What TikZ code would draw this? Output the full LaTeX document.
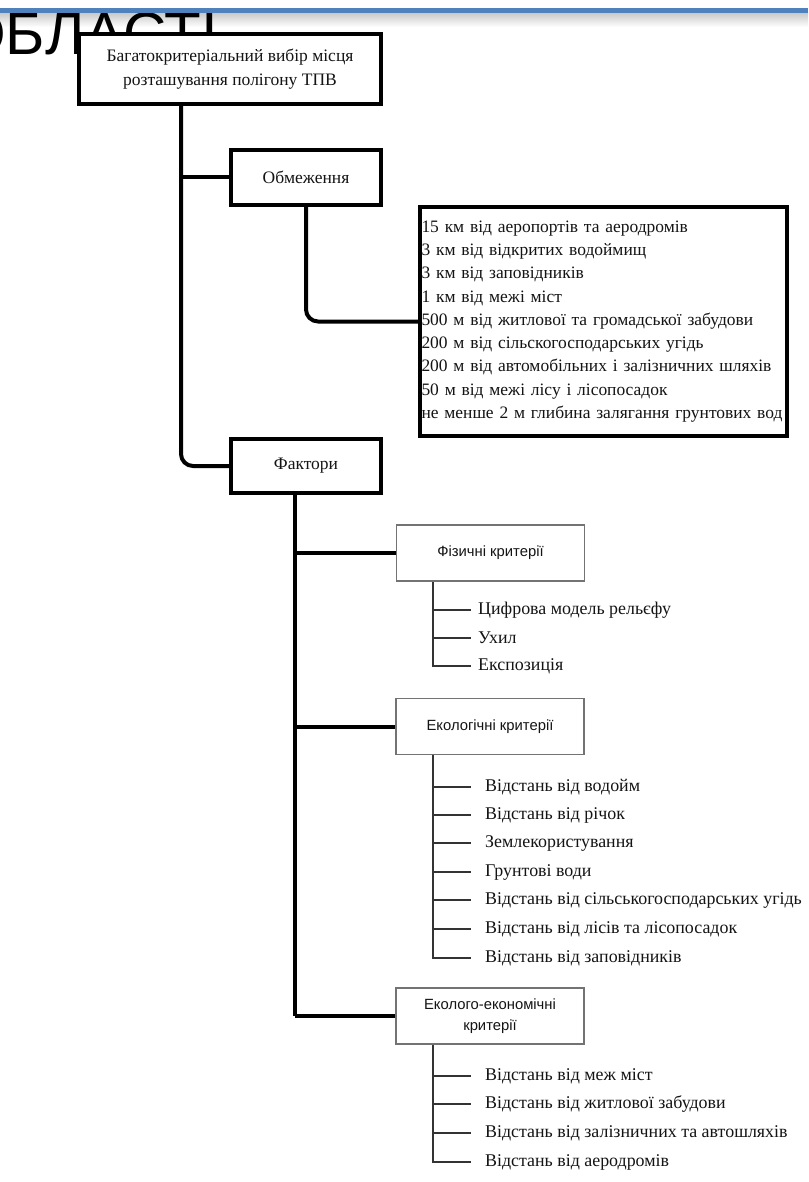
\documentclass[tikz,border=0pt]{standalone}
\usepackage{fontspec}
\setmainfont{Liberation Serif}
\newfontfamily\sansf{Liberation Sans}
\definecolor{slideblue}{HTML}{4F81BD}
\begin{document}
\begin{tikzpicture}[x=1pt,y=-1pt,
  every node/.style={text=black!92},
  mainbox/.style={draw=black, line width=4pt, fill=white, inner sep=0pt,
    font=\fontsize{17.5}{24}\selectfont, align=center},
  critbox/.style={draw=black!55, line width=1.8pt, fill=white, inner sep=0pt,
    minimum width=188pt, minimum height=56pt,
    font=\sansf\fontsize{14.8}{21}\selectfont, align=center},
  link/.style={line width=4pt, draw=black},
  leaf/.style={line width=1.2pt, draw=black!80},
  item/.style={anchor=west, inner sep=0pt, font=\fontsize{17.9}{20}\selectfont}
]
\useasboundingbox (0,0) rectangle (808,1182);
\fill[white] (0,0) rectangle (808,1182);

% slide header strip and its shadow
\shade[top color=black!22, bottom color=white] (0,12.5) rectangle (808,27);
\begin{scope}
  \clip (0,13) rectangle (808,1182);
  \node[anchor=base west, inner sep=0pt, text=black,
        font=\sansf\fontsize{60}{64}\selectfont] (head) at (-41,55) {ОБЛАСТІ};
\end{scope}
\fill[slideblue] (0,8) rectangle (808,13);

% reference x positions of the trunks
\coordinate (trunk) at (181,0);
\coordinate (ftrunk) at (295,0);
\coordinate (spine) at (433,0);
\coordinate (tip) at (471,0);

% boxes
\node[mainbox, minimum width=302pt, minimum height=70pt] (goal) at (230,69)
  {Багатокритеріальний вибір місця\\розташування полігону ТПВ};
\node[mainbox, minimum width=150pt, minimum height=55pt] (limits) at (306,177.5)
  {Обмеження};
\node[mainbox, minimum width=367pt, minimum height=229pt, text width=364pt,
      inner xsep=1.5pt, align=left, font=\fontsize{17.45}{23.25}\selectfont] (rules) at (603.5,321.5)
  {15 км від аеропортів та аеродромів\\
   3 км від відкритих водоймищ\\
   3 км від заповідників\\
   1 км від межі міст\\
   500 м від житлової та громадської забудови\\
   200 м від сільскогосподарських угідь\\
   200 м від автомобільних і залізничних шляхів\\
   50 м від межі лісу і лісопосадок\\
   не менше 2 м глибина залягання грунтових вод};
\node[mainbox, minimum width=150pt, minimum height=54pt] (factors) at (306,466)
  {Фактори};

\node[critbox] (phys) at (490.5,553) {Фізичні критерії};
\node[critbox] (ecol) at (490,726.5) {Екологічні критерії};
\node[critbox] (econ) at (490,1016) {Еколого-економічні\\критерії};

% leaf items
\node[item] (p1) at (478,610) {Цифрова модель рельєфу};
\node[item] (p2) at (478,638) {Ухил};
\node[item] (p3) at (478,666) {Експозиція};

\node[item] (e1) at (485,787) {Відстань від водойм};
\node[item] (e2) at (485,815) {Відстань від річок};
\node[item] (e3) at (485,843) {Землекористування};
\node[item] (e4) at (485,872) {Грунтові води};
\node[item] (e5) at (485,900) {Відстань від сільськогосподарських угідь};
\node[item] (e6) at (485,929) {Відстань від лісів та лісопосадок};
\node[item] (e7) at (485,958) {Відстань від заповідників};

\node[item] (c1) at (485,1076) {Відстань від меж міст};
\node[item] (c2) at (485,1104) {Відстань від житлової забудови};
\node[item] (c3) at (485,1133) {Відстань від залізничних та автошляхів};
\node[item] (c4) at (485,1162) {Відстань від аеродромів};

% main connectors
\draw[link, rounded corners=12pt] (goal.south -| trunk) |- (factors.west);
\draw[link] (trunk |- limits.west) -- (limits.west);
\draw[link, rounded corners=12pt] (limits.south) |- (rules.west);
\draw[link] (factors.south -| ftrunk) -- (ftrunk |- econ.west);
\draw[link] (ftrunk |- phys.west) -- (phys.west);
\draw[link] (ftrunk |- ecol.west) -- (ecol.west);
\draw[link] (ftrunk |- econ.west) -- (econ.west);

% leaf connectors
\draw[leaf] (spine |- phys.south) |- (tip |- p3.west);
\foreach \n in {p1,p2} \draw[leaf] (spine |- \n.west) -- (tip |- \n.west);
\draw[leaf] (spine |- ecol.south) |- (tip |- e7.west);
\foreach \n in {e1,e2,e3,e4,e5,e6} \draw[leaf] (spine |- \n.west) -- (tip |- \n.west);
\draw[leaf] (spine |- econ.south) |- (tip |- c4.west);
\foreach \n in {c1,c2,c3} \draw[leaf] (spine |- \n.west) -- (tip |- \n.west);
\end{tikzpicture}
\end{document}
